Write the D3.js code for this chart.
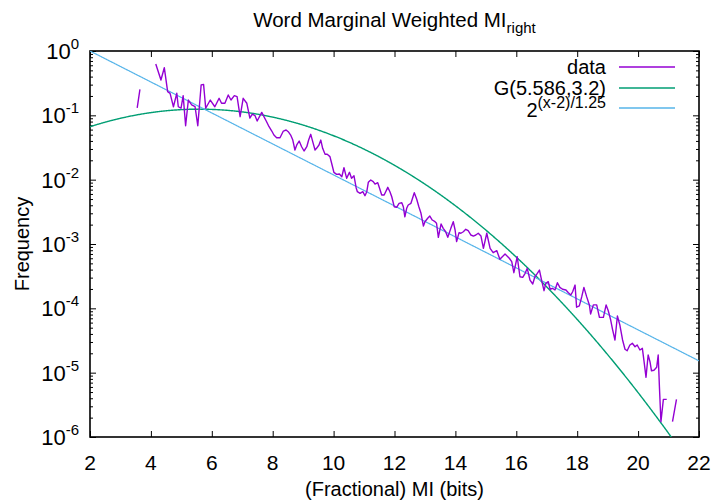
<!DOCTYPE html>
<html>
<head>
<meta charset="utf-8">
<script src="https://cdn.jsdelivr.net/npm/d3@7"></script>
<style>
  html, body { margin: 0; padding: 0; background: #fff; }
  svg { display: block; }
  text { font-family: "Liberation Sans", Arial, Helvetica, sans-serif; fill: #000; }
</style>
</head>
<body>
<svg id="chart" width="714" height="502"></svg>
<script>
// ---------------- data ----------------
const titleMain = "Word Marginal Weighted MI";
const titleSub = "right";
const xLabel = "(Fractional) MI (bits)";
const yLabel = "Frequency";
const xTicks = [2, 4, 6, 8, 10, 12, 14, 16, 18, 20, 22];
const yExponents = [0, -1, -2, -3, -4, -5, -6];

// measured histogram (null = gap / empty bin)
const dataX = [3.55, 3.64, null,
  4.16, 4.33, 4.44, 4.55, 4.63, 4.74, 4.85, 4.90, 4.99, 5.06, 5.14, 5.23, 5.34, 5.45, 5.54, 5.65, 5.73, 5.80,
  5.95, 6.10, 6.24, 6.32, 6.43, 6.54, 6.63, 6.74, 6.83, 6.93, 7.03, 7.15, 7.25, 7.33, 7.42, 7.49, 7.64, 7.80,
  7.88, 7.97, 8.04, 8.13, 8.24, 8.35, 8.44, 8.51, 8.59, 8.66, 8.73, 8.79, 8.87, 8.95, 9.03, 9.12, 9.18, 9.25,
  9.33, 9.39, 9.44, 9.52, 9.58, 9.64, 9.72, 9.79, 9.88, 9.95, 10.01, 10.10, 10.19, 10.27, 10.34, 10.43, 10.52,
  10.59, 10.67, 10.74, 10.78, 10.87, 10.96, 11.03, 11.09, 11.14, 11.22, 11.30, 11.36, 11.45, 11.52, 11.58,
  11.66, 11.78, 11.85, 11.91, 11.99, 12.07, 12.15, 12.24, 12.29, 12.34, 12.40, 12.45, 12.54, 12.65, 12.73,
  12.80, 12.87, 12.95, 13.00, 13.09, 13.16, 13.24, 13.33, 13.38, 13.44, 13.53, 13.60, 13.68, 13.75, 13.85,
  13.93, 13.99, 14.04, 14.12, 14.18, 14.26, 14.34, 14.42, 14.51, 14.59, 14.67, 14.75, 14.84, 14.92, 15.03,
  15.14, 15.24, 15.36, 15.46, 15.63, 15.77, 15.85, 15.92, 16.03, 16.12, 16.21, 16.29, 16.36, 16.45, 16.54,
  16.61, 16.69, 16.76, 16.83, 16.91, 16.97, 17.05, 17.11, 17.19, 17.27, 17.35, 17.43, 17.52, 17.63, 17.71,
  17.79, 17.85, 17.93, 17.98, 18.07, 18.15, 18.22, 18.31, 18.40, 18.44, 18.53, 18.64, 18.73, 18.86, 18.95,
  19.02, 19.10, 19.16, 19.24, 19.32, 19.40, 19.49, 19.57, 19.64, 19.73, 19.81, 19.90, 19.97, 20.06, 20.14,
  20.19, 20.26, 20.33, 20.39, 20.44, 20.52, 20.61, 20.66, 20.70, 20.75, 20.83, 20.94, null,
  21.13, 21.26];
const dataY = [0.131, 0.254, null,
  0.628, 0.354, 0.55, 0.233, 0.22, 0.136, 0.22, 0.136, 0.129, 0.202, 0.069, 0.173, 0.145, 0.136, 0.069, 0.296, 0.303, 0.129,
  0.173, 0.136, 0.184, 0.154, 0.154, 0.207, 0.173, 0.202, 0.195, 0.0953, 0.184, 0.154, 0.0909, 0.104, 0.0987, 0.0816, 0.111, 0.0796,
  0.0665, 0.057, 0.0494, 0.0449, 0.0449, 0.057, 0.0592, 0.0557, 0.0494, 0.0413, 0.0289, 0.0346, 0.0399, 0.0325, 0.0279, 0.0325, 0.0413, 0.0507,
  0.0367, 0.0289, 0.0307, 0.0346, 0.0413, 0.0307, 0.0248, 0.0248, 0.0228, 0.0169, 0.0130, 0.0121, 0.01225, 0.0111, 0.0153, 0.0105, 0.0130,
  0.0105, 0.0115, 0.0075, 0.0065, 0.00614, 0.0065, 0.00563, 0.0065, 0.0091, 0.00988, 0.0093, 0.00855, 0.00897, 0.00708, 0.00578,
  0.00578, 0.0076, 0.0065, 0.00543, 0.0038, 0.00372, 0.00429, 0.00438, 0.0038, 0.00265, 0.00359, 0.00404, 0.00429, 0.00627, 0.00495,
  0.0038, 0.003, 0.0019, 0.00222, 0.00251, 0.00272, 0.00236, 0.00222, 0.0021, 0.00127, 0.00205, 0.00175, 0.00155, 0.00127, 0.00175,
  0.00222, 0.00165, 0.00109, 0.0015, 0.00147, 0.00155, 0.00169, 0.00161, 0.00138, 0.00133, 0.00138, 0.00147, 0.00133, 0.000857, 0.00147,
  0.000857, 0.000732, 0.000787, 0.000578, 0.000698, 0.0006, 0.000531, 0.000358, 0.000634, 0.00031, 0.000303, 0.00035, 0.000419, 0.000275, 0.000239,
  0.00031, 0.00035, 0.000394, 0.000275, 0.000188, 0.000245, 0.00026, 0.000198, 0.000205, 0.000193, 0.00025, 0.000212, 0.000198, 0.000193, 0.000175,
  0.000161, 0.000181, 0.00023, 0.000104, 0.000109, 0.000152, 0.000212, 0.000152, 0.000113, 0.0000816, 0.000113, 0.000113, 0.0000724, 0.0000724, 0.000113,
  0.0000918, 0.0000658, 0.0000472, 0.0000322, 0.000076, 0.0000551, 0.0000322, 0.0000231, 0.0000219, 0.0000269, 0.0000286, 0.0000253, 0.0000269, 0.0000225, 0.0000239,
  0.0000157, 0.00000847, 0.0000188, 0.0000148, 0.0000107, 0.0000109, 0.0000121, 0.0000188, 0.00000605, 0.00000173, 0.00000385, 0.00000385, null,
  0.00000173, 0.00000385];

// fitted curves named in the legend
const gaussMean = 5.586, gaussSigma = 3.2;      // G(5.586,3.2)
const powBase = 2, powShift = 2, powScale = 1.25; // 2^(x-2)/1.25 (decaying)

const legendLabels = ["data", "G(5.586,3.2)", "2"];
const colors = ["#9400d3", "#009e73", "#56b4e9"];

// ---------------- layout ----------------
const W = 714, H = 502;
const L = 90, R = 699, T = 51, B = 437;
const svg = d3.select("#chart");

const x = d3.scaleLinear().domain([2, 22]).range([L, R]);
const y = d3.scaleLog().domain([1e-6, 1]).range([B, T]);

svg.append("defs").append("clipPath").attr("id", "clip")
  .append("rect").attr("x", L).attr("y", T).attr("width", R - L).attr("height", B - T);

// ticks (gnuplot style: inward, mirrored)
const majorY = yExponents.map(e => Math.pow(10, e));
const minorY = [];
yExponents.slice(1).forEach(e => { for (let m = 2; m <= 9; m++) minorY.push(m * Math.pow(10, e)); });

const tickStyle = g => { g.select(".domain").remove(); g.selectAll("line").attr("stroke", "#000").attr("stroke-width", 1); g.selectAll("text").remove(); };

svg.append("g").attr("transform", `translate(0,${B})`).call(d3.axisBottom(x).tickValues(xTicks).tickSize(-6).tickSizeOuter(0)).call(tickStyle);
svg.append("g").attr("transform", `translate(0,${T})`).call(d3.axisTop(x).tickValues(xTicks).tickSize(-6).tickSizeOuter(0)).call(tickStyle);
svg.append("g").attr("transform", `translate(${L},0)`).call(d3.axisLeft(y).tickValues(majorY).tickSize(-6).tickSizeOuter(0)).call(tickStyle);
svg.append("g").attr("transform", `translate(${R},0)`).call(d3.axisRight(y).tickValues(majorY).tickSize(-6).tickSizeOuter(0)).call(tickStyle);
svg.append("g").attr("transform", `translate(${L},0)`).call(d3.axisLeft(y).tickValues(minorY).tickSize(-3).tickSizeOuter(0)).call(tickStyle);
svg.append("g").attr("transform", `translate(${R},0)`).call(d3.axisRight(y).tickValues(minorY).tickSize(-3).tickSizeOuter(0)).call(tickStyle);

// border
svg.append("rect").attr("x", L).attr("y", T).attr("width", R - L).attr("height", B - T)
  .attr("fill", "none").attr("stroke", "#000").attr("stroke-width", 1.6);

// x tick labels
svg.append("g").selectAll("text").data(xTicks).join("text")
  .attr("x", d => x(d)).attr("y", B + 33).attr("text-anchor", "middle")
  .attr("font-size", 21).text(d => d);

// y tick labels 10^e
const yl = svg.append("g").selectAll("text").data(yExponents).join("text")
  .attr("x", 79).attr("y", d => y(Math.pow(10, d)) + 8).attr("text-anchor", "end").attr("font-size", 22);
yl.append("tspan").text("10");
yl.append("tspan").attr("dy", -10).attr("font-size", 15).text(d => d);

// axis titles
svg.append("text").attr("x", (L + R) / 2).attr("y", 496).attr("text-anchor", "middle").attr("font-size", 20).text(xLabel);
svg.append("text").attr("transform", `translate(29,${(T + B) / 2}) rotate(-90)`).attr("text-anchor", "middle").attr("font-size", 20).text(yLabel);

// title
const tt = svg.append("text").attr("x", (L + R) / 2).attr("y", 27).attr("text-anchor", "middle").attr("font-size", 20.5);
tt.append("tspan").text(titleMain);
tt.append("tspan").attr("dy", 6).attr("font-size", 15).text(titleSub);

// curves
const plot = svg.append("g").attr("clip-path", "url(#clip)");
const fx = d3.range(2, 22.001, 0.02);
const gauss = v => Math.exp(-((v - gaussMean) ** 2) / (2 * gaussSigma ** 2)) / (gaussSigma * Math.sqrt(2 * Math.PI));
const pw = v => Math.pow(powBase, -(v - powShift) / powScale);

const line = d3.line().x(d => x(d[0])).y(d => y(d[1]));

plot.append("path").datum(fx.map(v => [v, gauss(v)]).filter(d => d[1] > 1e-7))
  .attr("d", line).attr("fill", "none").attr("stroke", colors[1]).attr("stroke-width", 1.4);
plot.append("path").datum(fx.map(v => [v, pw(v)]))
  .attr("d", line).attr("fill", "none").attr("stroke", colors[2]).attr("stroke-width", 1.2);

const pts = dataX.map((v, i) => [v, dataY[i]]);
plot.append("path").datum(pts)
  .attr("d", d3.line().defined(d => d[0] != null && d[1] != null).x(d => x(d[0])).y(d => y(d[1])))
  .attr("fill", "none").attr("stroke", colors[0]).attr("stroke-width", 1.4).attr("stroke-linejoin", "round");

// legend
const legY = [67, 88, 108];
const lg = svg.append("g");
legendLabels.forEach((lab, i) => {
  lg.append("line").attr("x1", 619).attr("x2", 675).attr("y1", legY[i]).attr("y2", legY[i])
    .attr("stroke", colors[i]).attr("stroke-width", 1.4);
});
lg.append("text").attr("x", 606).attr("y", legY[0] + 7).attr("text-anchor", "end").attr("font-size", 20).text(legendLabels[0]);
lg.append("text").attr("x", 606).attr("y", legY[1] + 7).attr("text-anchor", "end").attr("font-size", 20).text(legendLabels[1]);
const l3 = lg.append("text").attr("x", 606).attr("y", legY[2] + 9).attr("text-anchor", "end").attr("font-size", 20);
l3.append("tspan").text(legendLabels[2]);
l3.append("tspan").attr("dy", -9).attr("font-size", 16).text("(x-2)/1.25");
</script>
</body>
</html>
